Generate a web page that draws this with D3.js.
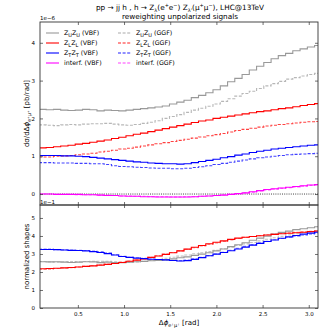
<!DOCTYPE html>
<html><head><meta charset="utf-8">
<script src="https://cdn.jsdelivr.net/npm/d3@7"></script>
<style>
body{margin:0;background:#fff;}
text{font-family:"DejaVu Sans",sans-serif;fill:#000;}
</style></head>
<body><svg id="c" width="332" height="332"></svg>
<script>
const binEdges=[0.079,0.157,0.236,0.314,0.393,0.471,0.550,0.628,0.707,0.785,0.864,0.942,1.021,1.100,1.178,1.257,1.335,1.414,1.492,1.571,1.649,1.728,1.806,1.885,1.963,2.042,2.121,2.199,2.278,2.356,2.435,2.513,2.592,2.670,2.749,2.827,2.906,2.985,3.063,3.142];
// main panel, units of 1e-6 pb/rad
const uuVBF=[2.24,2.23,2.24,2.22,2.21,2.22,2.24,2.23,2.20,2.22,2.21,2.20,2.22,2.24,2.26,2.28,2.30,2.33,2.38,2.43,2.48,2.55,2.61,2.68,2.76,2.86,2.97,3.06,3.16,3.28,3.38,3.48,3.58,3.66,3.72,3.79,3.84,3.89,3.93];
const uuGGF=[1.83,1.82,1.81,1.83,1.84,1.83,1.85,1.86,1.86,1.87,1.85,1.83,1.82,1.84,1.87,1.90,1.94,2.00,2.05,2.10,2.16,2.22,2.27,2.32,2.38,2.45,2.52,2.59,2.66,2.72,2.79,2.86,2.92,2.98,3.04,3.08,3.12,3.16,3.19];
const llVBF=[1.22,1.23,1.25,1.27,1.29,1.32,1.34,1.37,1.40,1.43,1.47,1.50,1.54,1.58,1.61,1.65,1.69,1.73,1.77,1.81,1.85,1.89,1.93,1.96,2.00,2.03,2.06,2.09,2.12,2.15,2.18,2.20,2.23,2.26,2.28,2.31,2.34,2.37,2.39];
const llGGF=[0.98,0.98,1.00,1.01,1.02,1.04,1.06,1.08,1.11,1.13,1.16,1.19,1.21,1.24,1.27,1.30,1.33,1.36,1.39,1.42,1.45,1.48,1.51,1.54,1.57,1.60,1.64,1.68,1.71,1.74,1.77,1.80,1.82,1.84,1.86,1.88,1.90,1.91,1.92];
const ttVBF=[1.02,1.02,1.02,1.01,1.01,1.00,0.99,0.97,0.95,0.93,0.91,0.89,0.87,0.85,0.84,0.82,0.81,0.80,0.80,0.79,0.80,0.83,0.86,0.89,0.92,0.96,0.99,1.03,1.06,1.10,1.13,1.16,1.19,1.21,1.23,1.25,1.27,1.29,1.30];
const ttGGF=[0.83,0.83,0.82,0.82,0.82,0.81,0.81,0.80,0.80,0.78,0.75,0.73,0.72,0.71,0.70,0.69,0.68,0.68,0.67,0.67,0.68,0.70,0.72,0.75,0.78,0.81,0.84,0.87,0.90,0.93,0.96,0.98,1.00,1.02,1.04,1.05,1.06,1.07,1.08];
const intVBF=[0.00,0.00,-0.01,-0.01,-0.01,-0.01,-0.02,-0.02,-0.03,-0.04,-0.04,-0.05,-0.06,-0.06,-0.07,-0.07,-0.08,-0.08,-0.08,-0.08,-0.08,-0.07,-0.06,-0.05,-0.04,-0.03,-0.01,0.01,0.03,0.06,0.09,0.12,0.14,0.16,0.18,0.20,0.22,0.24,0.25];
const intGGF=[0.00,0.00,-0.01,-0.01,-0.01,-0.02,-0.02,-0.02,-0.03,-0.03,-0.04,-0.05,-0.05,-0.06,-0.06,-0.07,-0.07,-0.07,-0.08,-0.08,-0.07,-0.07,-0.06,-0.05,-0.04,-0.02,-0.01,0.01,0.03,0.05,0.08,0.11,0.13,0.15,0.17,0.19,0.21,0.23,0.24];
// lower panel, normalized shapes, units of 1e-1
const nUuVBF=[2.57,2.56,2.57,2.55,2.53,2.55,2.57,2.56,2.52,2.55,2.53,2.52,2.55,2.57,2.59,2.62,2.64,2.67,2.73,2.79,2.84,2.92,2.99,3.07,3.17,3.28,3.41,3.51,3.62,3.76,3.88,3.99,4.11,4.20,4.27,4.35,4.40,4.46,4.51];
const nUuGGF=[2.58,2.56,2.55,2.57,2.58,2.56,2.58,2.60,2.59,2.60,2.57,2.54,2.53,2.56,2.60,2.64,2.69,2.76,2.82,2.88,2.94,3.01,3.07,3.13,3.20,3.29,3.38,3.47,3.56,3.64,3.73,3.82,3.90,3.98,4.06,4.12,4.18,4.24,4.29];
const nLlVBF=[2.18,2.19,2.21,2.23,2.25,2.28,2.31,2.34,2.38,2.42,2.47,2.53,2.60,2.66,2.73,2.81,2.89,2.98,3.07,3.17,3.27,3.37,3.47,3.57,3.65,3.73,3.81,3.88,3.93,3.97,4.01,4.05,4.09,4.12,4.15,4.18,4.21,4.24,4.27];
const nLlGGF=[2.15,2.16,2.19,2.22,2.24,2.28,2.31,2.35,2.39,2.44,2.49,2.55,2.61,2.67,2.74,2.82,2.90,2.99,3.08,3.17,3.26,3.35,3.44,3.53,3.61,3.69,3.78,3.86,3.92,3.97,4.02,4.07,4.11,4.14,4.17,4.20,4.23,4.26,4.29];
const nTtVBF=[3.25,3.25,3.24,3.22,3.20,3.19,3.17,3.13,3.08,3.02,2.94,2.86,2.81,2.77,2.74,2.71,2.69,2.67,2.64,2.61,2.63,2.70,2.80,2.90,2.99,3.08,3.18,3.28,3.38,3.49,3.59,3.69,3.78,3.87,3.95,4.03,4.10,4.16,4.21];
const nTtGGF=[3.28,3.27,3.24,3.23,3.22,3.20,3.19,3.16,3.13,3.06,2.96,2.87,2.82,2.79,2.76,2.72,2.69,2.67,2.65,2.63,2.66,2.73,2.82,2.91,3.00,3.10,3.21,3.31,3.42,3.52,3.62,3.71,3.79,3.86,3.93,3.99,4.04,4.10,4.15];
const xTicks=[0.5,1.0,1.5,2.0,2.5,3.0];
const yTicksMain=[0,1,2,3,4];
const yTicksLow=[0,1,2,3,4,5];
const legendLabels=[["Z","U","Z","U"," (VBF)"],["Z","L","Z","L"," (VBF)"],["Z","T","Z","T"," (VBF)"],["interf. (VBF)"],
                    ["Z","U","Z","U"," (GGF)"],["Z","L","Z","L"," (GGF)"],["Z","T","Z","T"," (GGF)"],["interf. (GGF)"]];

const svg=d3.select("#c");
const L=40,R=318,T=22,M=205,B=308;
const x=d3.scaleLinear().domain([0.09,3.10]).range([L,R]);
const y1=d3.scaleLinear().domain([-0.29,4.55]).range([M,T]);
const y2=d3.scaleLinear().domain([0,5.72]).range([B,M]);

const defs=svg.append("defs");
defs.append("clipPath").attr("id","c1").append("rect").attr("x",L).attr("y",T).attr("width",R-L).attr("height",M-T);
defs.append("clipPath").attr("id","c2").append("rect").attr("x",L).attr("y",M).attr("width",R-L).attr("height",B-M);

function stepPath(vals,ys){
  const pts=vals.map((v,i)=>[binEdges[i],v]);
  pts.push([binEdges[binEdges.length-1],vals[vals.length-1]]);
  return d3.line().x(d=>x(d[0])).y(d=>ys(d[1])).curve(d3.curveStepAfter)(pts);
}
const gMain=svg.append("g").attr("clip-path","url(#c1)");
const gLow=svg.append("g").attr("clip-path","url(#c2)");

// zero line
gMain.append("line").attr("x1",L).attr("x2",R).attr("y1",y1(0)).attr("y2",y1(0))
  .attr("stroke","#444").attr("stroke-width",1).attr("stroke-dasharray","1,1.2");

const mainSeries=[
 [uuGGF,"#aaaaaa",true],[llGGF,"#ff2020",true],[ttGGF,"#2020ff",true],[intGGF,"#ff40ff",true],
 [uuVBF,"#999999",false],[llVBF,"#ff0000",false],[ttVBF,"#0000ff",false],[intVBF,"#ff00ff",false]];
mainSeries.forEach(([v,c,d])=>{
  gMain.append("path").attr("d",stepPath(v,y1)).attr("fill","none").attr("stroke",c)
   .attr("stroke-width",1.1).attr("stroke-dasharray",d?"3,1.6":null).attr("opacity",d?0.85:1);
});
const lowSeries=[
 [nUuGGF,"#aaaaaa",true],[nLlGGF,"#ff5050",true],[nTtGGF,"#5050ff",true],
 [nUuVBF,"#999999",false],[nLlVBF,"#ff0000",false],[nTtVBF,"#0000ff",false]];
lowSeries.forEach(([v,c,d])=>{
  gLow.append("path").attr("d",stepPath(v,y2)).attr("fill","none").attr("stroke",c)
   .attr("stroke-width",1.1).attr("stroke-dasharray",d?"3,1.6":null).attr("opacity",d?0.7:1);
});

// frames
[[T,M],[M,B]].forEach(([a,b])=>{
  svg.append("rect").attr("x",L).attr("y",a).attr("width",R-L).attr("height",b-a)
   .attr("fill","none").attr("stroke","#333").attr("stroke-width",0.9);
});

// axes with inward ticks
function axisStyle(g){g.select(".domain").remove();g.selectAll(".tick line").attr("stroke","#333").attr("stroke-width",0.7);
  g.selectAll(".tick text").attr("font-size",5.5).attr("font-family","DejaVu Sans");}
svg.append("g").attr("transform",`translate(0,${B})`).call(d3.axisBottom(x).tickValues(xTicks).tickSize(-3).tickPadding(4).tickFormat(d3.format(".1f"))).call(axisStyle);
svg.append("g").attr("transform",`translate(0,${M})`).call(d3.axisBottom(x).tickValues(xTicks).tickSize(-3).tickFormat("")).call(axisStyle);
svg.append("g").attr("transform",`translate(0,${M})`).call(d3.axisTop(x).tickValues(xTicks).tickSize(-3).tickFormat("")).call(axisStyle);
svg.append("g").attr("transform",`translate(0,${T})`).call(d3.axisTop(x).tickValues(xTicks).tickSize(-3).tickFormat("")).call(axisStyle);
svg.append("g").attr("transform",`translate(${L},0)`).call(d3.axisLeft(y1).tickValues(yTicksMain).tickSize(-3).tickPadding(5).tickFormat(d3.format("d"))).call(axisStyle);
svg.append("g").attr("transform",`translate(${R},0)`).call(d3.axisRight(y1).tickValues(yTicksMain).tickSize(-3).tickFormat("")).call(axisStyle);
svg.append("g").attr("transform",`translate(${L},0)`).call(d3.axisLeft(y2).tickValues(yTicksLow).tickSize(-3).tickPadding(5).tickFormat(d3.format("d"))).call(axisStyle);
svg.append("g").attr("transform",`translate(${R},0)`).call(d3.axisRight(y2).tickValues(yTicksLow).tickSize(-3).tickFormat("")).call(axisStyle);

svg.append("text").attr("x",L).attr("y",T-2).attr("font-size",5.5).text("1e\u22126");
svg.append("text").attr("x",L).attr("y",M-1.5).attr("font-size",5.5).text("1e\u22121");

// title
const t1=svg.append("text").attr("x",180).attr("y",10).attr("text-anchor","middle").attr("font-size",7.3);
function add(t,s,kind){const ts=t.append("tspan").text(s);
  if(kind==="sub"){ts.attr("font-size",5).attr("dy",1.6);}
  else if(kind==="sup"){ts.attr("font-size",5).attr("dy",-2.8);}
  return ts;}
function seq(t,parts){let shift=0;parts.forEach(([s,k])=>{const ts=t.append("tspan").text(s);
  let target=k==="sub"?1.6:(k==="sup"?-2.8:0);
  ts.attr("dy",target-shift);shift=target;if(k)ts.attr("font-size",5);});}
seq(t1,[["pp \u2192 jj h , h \u2192 Z"],["\u03bb","sub"],["(e"],["+","sup"],["e"],["\u2212","sup"],[") Z"],["\u03bb'","sub"],["(\u03bc"],["+","sup"],["\u03bc"],["\u2212","sup"],["), LHC@13TeV"]]);
svg.append("text").attr("x",180).attr("y",19).attr("text-anchor","middle").attr("font-size",7.3).text("reweighting unpolarized signals");

// y labels
const yl=svg.append("text").attr("transform",`translate(29,${(T+M)/2}) rotate(-90)`).attr("text-anchor","middle").attr("font-size",7);
seq(yl,[["d\u03c3/d\u0394"],["\u03d5","it"],["e\u207a\u03bc\u207a","sub"],[" [pb/rad]"]]);
yl.selectAll("tspan").filter(function(){return this.textContent==="\u03d5";}).attr("font-size",7).attr("font-style","italic");
svg.append("text").attr("transform",`translate(29,${(M+B)/2}) rotate(-90)`).attr("text-anchor","middle").attr("font-size",7).text("normalized shapes");
const xl=svg.append("text").attr("x",(L+R)/2).attr("y",325).attr("text-anchor","middle").attr("font-size",7);
seq(xl,[["\u0394"],["\u03d5","it"],["e\u207a\u03bc\u207a","sub"],[" [rad]"]]);
xl.selectAll("tspan").filter(function(){return this.textContent==="\u03d5";}).attr("font-size",7).attr("font-style","italic");

// legend
const legColors=["#999999","#ff0000","#0000ff","#ff00ff","#aaaaaa","#ff2020","#2020ff","#ff40ff"];
legendLabels.forEach((lab,i)=>{
  const col=i<4?0:1,row=i%4;
  const lx=col===0?46:118, ty=33+row*10;
  svg.append("line").attr("x1",lx).attr("x2",lx+13).attr("y1",ty).attr("y2",ty)
    .attr("stroke",legColors[i]).attr("stroke-width",1.1).attr("stroke-dasharray",col?"3,1.6":null);
  const tx=svg.append("text").attr("x",lx+18).attr("y",ty+2.3).attr("font-size",6.3);
  if(lab.length===1){tx.text(lab[0]);}
  else seq(tx,[[lab[0]],[lab[1],"sub"],[lab[2]],[lab[3],"sub"],[lab[4]]]);
});
</script></body></html>
